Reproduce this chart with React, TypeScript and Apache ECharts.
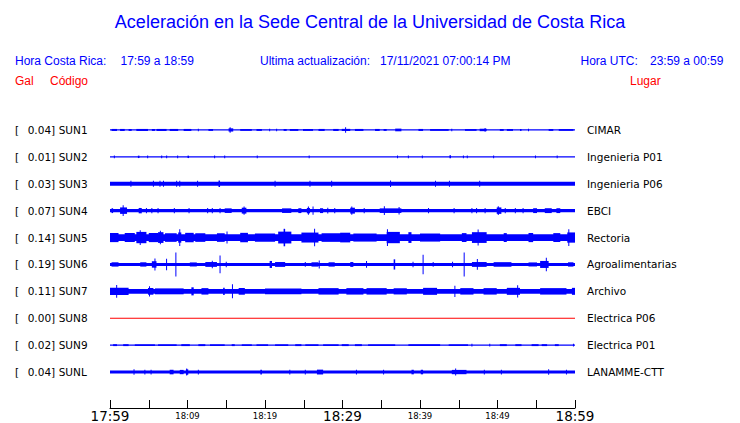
import React, { useEffect, useRef } from "react";
import * as echarts from "echarts";

// ---- data ----
const codes = ["SUN1", "SUN2", "SUN3", "SUN4", "SUN5", "SUN6", "SUN7", "SUN8", "SUN9", "SUNL"];
const peaks = ["0.04", "0.01", "0.03", "0.07", "0.14", "0.19", "0.11", "0.00", "0.02", "0.04"];
const places = [
  "CIMAR", "Ingenieria P01", "Ingenieria P06", "EBCI", "Rectoria",
  "Agroalimentarias", "Archivo", "Electrica P06", "Electrica P01", "LANAMME-CTT",
];
// background noise half-amplitude (relative, 1 = half a trace row)
const baseAmp = [0.05, 0.04, 0.14, 0.12, 0.25, 0.11, 0.18, 0.04, 0.04, 0.11];
const deadStation = [false, false, false, false, false, false, false, true, false, false];

// tick labels every 5 minutes (17:59 .. 18:59)
const tickLabels = ["17:59", "", "18:09", "", "18:19", "", "18:29", "", "18:39", "", "18:49", "", "18:59"];
const majorLabels = ["17:59", "18:29", "18:59"];

// events: [start minute, end minute, half-amplitude]
type Ev = [number, number, number];
const sun1Events: Ev[] = [
  [0.2, 0.9, 0.075], [1.3, 1.9, 0.075], [2.4, 2.8, 0.07], [3.4, 4.9, 0.075], [5.4, 5.8, 0.07], [6.0, 7.3, 0.075],
  [7.7, 8.8, 0.075], [9.5, 10.5, 0.075], [11.4, 11.4, 0.09], [12.7, 13.3, 0.07], [15.3, 15.9, 0.12],
  [15.5, 15.5, 0.2], [16.8, 18.3, 0.065], [18.9, 19.6, 0.07], [20.6, 20.6, 0.09], [21.5, 21.5, 0.09],
  [22.4, 22.8, 0.07], [23.2, 24.3, 0.07], [24.9, 26.2, 0.07], [26.9, 27.7, 0.075], [28.8, 29.5, 0.075],
  [29.9, 31.0, 0.08], [30.4, 30.4, 0.2], [31.6, 32.7, 0.075], [34.2, 34.8, 0.075], [35.3, 35.7, 0.07],
  [36.8, 37.6, 0.1], [39.8, 40.4, 0.075], [41.3, 43.7, 0.065], [44.1, 44.1, 0.09], [45.8, 47.3, 0.065],
  [47.7, 48.6, 0.09], [48.4, 48.4, 0.14], [50.3, 50.8, 0.07], [51.2, 52.0, 0.07], [52.9, 53.1, 0.07],
  [54.0, 54.0, 0.09], [56.6, 57.2, 0.07], [57.9, 59.8, 0.065],
];
const sun2Events: Ev[] = [
  [0.56, 0.56, 0.1], [3.6, 3.8, 0.09], [4.86, 4.86, 0.1], [6.67, 6.67, 0.1], [7.31, 7.31, 0.1],
  [8.73, 8.73, 0.1], [10.0, 10.2, 0.09], [13.5, 13.5, 0.1], [14.8, 14.8, 0.1], [19.0, 19.0, 0.1],
  [25.7, 25.7, 0.1], [37.1, 37.1, 0.1], [38.5, 38.5, 0.1], [40.3, 40.3, 0.1], [43.8, 44.0, 0.11],
  [45.6, 45.6, 0.1], [46.1, 46.1, 0.1], [49.5, 49.5, 0.1], [54.9, 54.9, 0.1], [57.7, 57.7, 0.1],
];
const sun3Events: Ev[] = [
  [2.7, 2.7, 0.22], [5.6, 5.6, 0.22], [6.45, 6.45, 0.22], [6.9, 6.9, 0.22], [8.6, 8.6, 0.22],
  [9.0, 9.0, 0.22], [11.3, 11.3, 0.22], [14.0, 14.2, 0.24], [21.3, 21.3, 0.22], [25.8, 25.8, 0.22],
  [28.6, 28.6, 0.22], [36.2, 36.2, 0.25], [42.0, 42.1, 0.22], [43.8, 43.8, 0.22], [47.7, 47.7, 0.22],
];
const sun4Events: Ev[] = [
  [0.2, 0.4, 0.18], [1.3, 2.2, 0.24], [1.7, 1.8, 0.4], [3.7, 4.1, 0.2], [4.7, 4.7, 0.2], [5.4, 5.4, 0.2],
  [6.2, 6.2, 0.2], [8.3, 8.3, 0.2], [10.2, 10.2, 0.2], [12.6, 12.6, 0.2], [13.2, 13.2, 0.2],
  [14.2, 14.2, 0.2], [14.8, 15.7, 0.17], [17.0, 17.6, 0.22], [17.3, 17.3, 0.3], [22.2, 23.4, 0.17],
  [24.3, 24.7, 0.18], [25.4, 25.8, 0.2], [25.6, 25.6, 0.3], [26.2, 26.2, 0.3], [27.1, 27.5, 0.18],
  [28.1, 28.1, 0.22], [29.0, 29.0, 0.2], [31.0, 31.6, 0.22], [31.2, 31.2, 0.3], [32.8, 32.8, 0.2],
  [34.8, 37.6, 0.17], [35.4, 35.4, 0.33], [37.3, 37.4, 0.28], [41.1, 41.1, 0.2], [44.4, 44.4, 0.2],
  [46.7, 46.7, 0.2], [47.3, 47.3, 0.2], [48.4, 48.4, 0.2], [49.9, 50.5, 0.24], [50.1, 50.1, 0.33],
  [51.0, 51.0, 0.2], [52.3, 52.3, 0.2], [53.3, 53.3, 0.2], [54.6, 55.1, 0.18], [56.1, 57.0, 0.18],
  [57.6, 58.1, 0.18],
];
const sun5Events: Ev[] = [
  [0, 1.1, 0.34], [1.9, 3.2, 0.33], [3.4, 4.7, 0.42], [3.9, 3.9, 0.55], [5.0, 6.2, 0.34], [6.2, 6.9, 0.4],
  [6.5, 6.5, 0.5], [7.1, 8.6, 0.32], [8.8, 9.2, 0.38], [9.0, 9.0, 0.62], [9.7, 10.8, 0.35],
  [11.0, 12.3, 0.32], [13.8, 14.8, 0.32], [15.1, 15.1, 0.45], [16.8, 17.8, 0.35], [18.7, 21.3, 0.31],
  [21.7, 23.4, 0.44], [22.4, 22.6, 0.65], [24.7, 26.9, 0.37], [26.4, 26.4, 0.65], [27.3, 30.3, 0.32],
  [29.7, 31.0, 0.36], [31.4, 34.4, 0.3], [35.7, 37.4, 0.42], [35.8, 35.8, 0.62], [38.5, 38.9, 0.4],
  [40.0, 42.6, 0.3], [45.4, 46.0, 0.33], [46.7, 48.6, 0.4], [47.5, 47.6, 0.6], [50.8, 51.2, 0.33],
  [54.0, 54.6, 0.34], [57.2, 58.1, 0.33], [59.0, 60.0, 0.38], [59.2, 59.2, 0.62],
];
const sun6Events: Ev[] = [
  [0.2, 1.1, 0.16], [3.9, 4.7, 0.16], [5.4, 6.0, 0.24], [5.8, 5.8, 0.45], [7.3, 7.3, 0.43],
  [8.5, 8.5, 0.89], [10.3, 11.2, 0.15], [12.3, 13.8, 0.18], [13.2, 13.2, 0.28], [14.2, 14.2, 0.66],
  [15.0, 15.0, 0.2], [20.6, 20.9, 0.26], [21.3, 22.6, 0.18], [25.2, 25.2, 0.18], [26.0, 26.9, 0.16],
  [27.0, 27.0, 0.3], [28.2, 29.0, 0.16], [31.0, 31.4, 0.18], [33.1, 33.1, 0.25], [36.6, 36.8, 0.38],
  [39.1, 39.1, 0.2], [40.4, 40.4, 0.72], [41.7, 41.7, 0.18], [44.2, 44.2, 0.2], [45.7, 45.7, 0.89],
  [46.7, 48.6, 0.18], [47.4, 47.4, 0.4], [49.5, 51.8, 0.17], [54.0, 55.1, 0.15], [55.5, 56.6, 0.26],
  [56.3, 56.3, 0.5], [59.1, 59.8, 0.16],
];
const sun7Events: Ev[] = [
  [0, 2.4, 0.27], [0.86, 0.86, 0.47], [4.9, 5.6, 0.25], [5.1, 5.1, 0.38], [5.8, 9.5, 0.22],
  [10.5, 10.8, 0.3], [11.8, 12.7, 0.24], [14.6, 14.8, 0.27], [15.8, 15.8, 0.52], [16.6, 17.4, 0.25],
  [20.0, 24.7, 0.22], [26.9, 29.5, 0.24], [30.5, 32.7, 0.24], [33.1, 35.7, 0.24], [36.6, 38.3, 0.23],
  [40.4, 42.2, 0.26], [44.5, 44.5, 0.42], [45.2, 46.9, 0.24], [48.2, 49.9, 0.24], [51.2, 52.9, 0.26],
  [52.6, 52.6, 0.45], [55.5, 58.9, 0.24], [59.6, 60, 0.26],
];
const sun8Events: Ev[] = [];
const sun9Events: Ev[] = [
  [0.4, 0.9, 0.07], [1.7, 2.4, 0.07], [3.2, 5.8, 0.06], [6.2, 8.6, 0.06], [9.2, 10.3, 0.07],
  [11.4, 12.3, 0.07], [12.9, 14.8, 0.06], [15.7, 16.1, 0.07], [17.0, 18.3, 0.06], [18.9, 20.4, 0.06],
  [21.3, 23.0, 0.06], [23.9, 24.7, 0.07], [25.2, 26.9, 0.06], [27.5, 29.5, 0.06], [29.9, 30.8, 0.07],
  [31.6, 32.5, 0.07], [33.3, 36.8, 0.06], [38.5, 42.6, 0.06], [43.7, 46.2, 0.06], [46.7, 46.7, 0.1],
  [49.0, 49.0, 0.1], [50.3, 51.2, 0.07], [52.3, 53.1, 0.07], [54.4, 55.3, 0.07], [55.7, 56.4, 0.07],
  [57.4, 57.9, 0.07], [59.8, 59.8, 0.1],
];
const sunLEvents: Ev[] = [
  [3.1, 3.1, 0.2], [4.5, 4.5, 0.18], [5.3, 5.3, 0.18], [7.7, 8.2, 0.17], [9.0, 9.5, 0.16],
  [9.8, 10.1, 0.2], [9.9, 9.9, 0.26], [11.4, 11.4, 0.18], [19.4, 19.6, 0.18], [23.2, 23.2, 0.18],
  [25.2, 25.2, 0.18], [26.7, 27.5, 0.18], [31.8, 31.8, 0.18], [35.3, 35.3, 0.18], [38.9, 39.2, 0.17],
  [40.1, 40.4, 0.17], [44.1, 46.0, 0.16], [44.6, 44.6, 0.26], [48.3, 48.3, 0.18], [50.5, 50.5, 0.18],
  [56.6, 56.6, 0.2], [58.9, 58.9, 0.18],
];

const BLUE = "#0000ff";
const RED = "#ff0000";

export default function App() {
  const ref = useRef<HTMLDivElement>(null);
  useEffect(() => {
    document.body.style.margin = "0";
    const chart = echarts.init(ref.current!, null, { renderer: "svg" });
    const allEvents = [sun1Events, sun2Events, sun3Events, sun4Events, sun5Events, sun6Events, sun7Events, sun8Events, sun9Events, sunLEvents];
    const data: number[][] = [];
    codes.forEach((_, i) => {
      data.push([0, 60, i, baseAmp[i]]);
      allEvents[i].forEach((e) => data.push([e[0], e[1], i, e[2]]));
    });

    const headerFont = "12px 'Liberation Sans', Arial, sans-serif";
    const txt = (x: number, y: number, text: string, fill: string, font = headerFont, align = "left") => ({
      type: "text",
      x,
      y,
      silent: true,
      style: { text, fill, font, align, verticalAlign: "middle" },
    });

    const option: any = {
      animation: false,
      backgroundColor: "#ffffff",
      grid: { left: 110, right: 165, top: 116.5, height: 270 },
      graphic: [
        txt(370, 22, "Aceleración en la Sede Central de la Universidad de Costa Rica", BLUE, "18px 'Liberation Sans', Arial, sans-serif", "center"),
        txt(15, 61, "Hora Costa Rica:", BLUE),
        txt(120.5, 61, "17:59 a 18:59", BLUE),
        txt(260, 61, "Ultima actualización:", BLUE),
        txt(380, 61, "17/11/2021 07:00:14 PM", BLUE),
        txt(580.5, 61, "Hora UTC:", BLUE),
        txt(650, 61, "23:59 a 00:59", BLUE),
        txt(15, 81, "Gal", RED),
        txt(50, 81, "Código", RED),
        txt(630, 81, "Lugar", RED),
      ],
      xAxis: {
        type: "value",
        min: 0,
        max: 60,
        interval: 5,
        position: "bottom",
        offset: 22.5,
        splitLine: { show: false },
        axisLine: { show: true, onZero: false, lineStyle: { color: "#000", width: 1 } },
        axisTick: { show: true, inside: true, length: 8, lineStyle: { color: "#000", width: 1 } },
        axisLabel: {
          margin: 1,
          showMinLabel: true,
          showMaxLabel: true,
          hideOverlap: false,
          formatter: (v: number) => {
            const lab = tickLabels[Math.round(v / 5)] || "";
            if (!lab) return "";
            return majorLabels.includes(lab) ? `{big|${lab}}` : `{small|${lab}}`;
          },
          rich: {
            big: { fontSize: 13.5, fontFamily: "'DejaVu Sans'", color: "#000" },
            small: { fontSize: 8.5, fontFamily: "'DejaVu Sans'", color: "#000", padding: [2, 0, 0, 0] },
          },
        },
      },
      yAxis: [
        {
          type: "category",
          data: codes.map((c, i) => `{b|[}{v|${peaks[i]}]}{c|${c}}`),
          inverse: true,
          position: "left",
          axisLine: { show: false },
          axisTick: { show: false },
          splitLine: { show: false },
          axisLabel: {
            align: "left",
            margin: 95,
            interval: 0,
            rich: {
              b: { width: 12.7, fontSize: 10.5, fontFamily: "'DejaVu Sans'", color: "#000" },
              v: { width: 31, fontSize: 10.5, fontFamily: "'DejaVu Sans'", color: "#000" },
              c: { fontSize: 10.5, fontFamily: "'DejaVu Sans'", color: "#000" },
            },
          },
        },
        {
          type: "category",
          data: places,
          inverse: true,
          position: "right",
          axisLine: { show: false },
          axisTick: { show: false },
          splitLine: { show: false },
          axisLabel: { margin: 12, interval: 0, fontSize: 10.5, fontFamily: "'DejaVu Sans'", color: "#000" },
        },
        { type: "value", min: 0, max: 20, inverse: true, show: false },
      ],
      series: [
        {
          type: "custom",
          xAxisIndex: 0,
          yAxisIndex: 2,
          clip: false,
          encode: { x: [0, 1], y: 2 },
          data,
          renderItem: (_params: any, api: any) => {
            const t0 = api.value(0);
            const t1 = api.value(1);
            const row = api.value(2);
            const amp = api.value(3);
            const yc = row * 2 + 1;
            const p0 = api.coord([t0, yc - amp]);
            const p1 = api.coord([t1, yc + amp]);
            let x = p0[0];
            let w = p1[0] - p0[0];
            if (w < 1) {
              x = p0[0] - 0.5;
              w = 1;
            }
            const y = Math.min(p0[1], p1[1]);
            const h = Math.max(Math.abs(p1[1] - p0[1]), 1);
            return {
              type: "rect",
              shape: { x, y, width: w, height: h },
              style: { fill: deadStation[row] ? RED : BLUE },
            };
          },
        },
      ],
    };
    chart.setOption(option);
    return () => chart.dispose();
  }, []);
  return <div ref={ref} style={{ width: 740, height: 423 }} />;
}
